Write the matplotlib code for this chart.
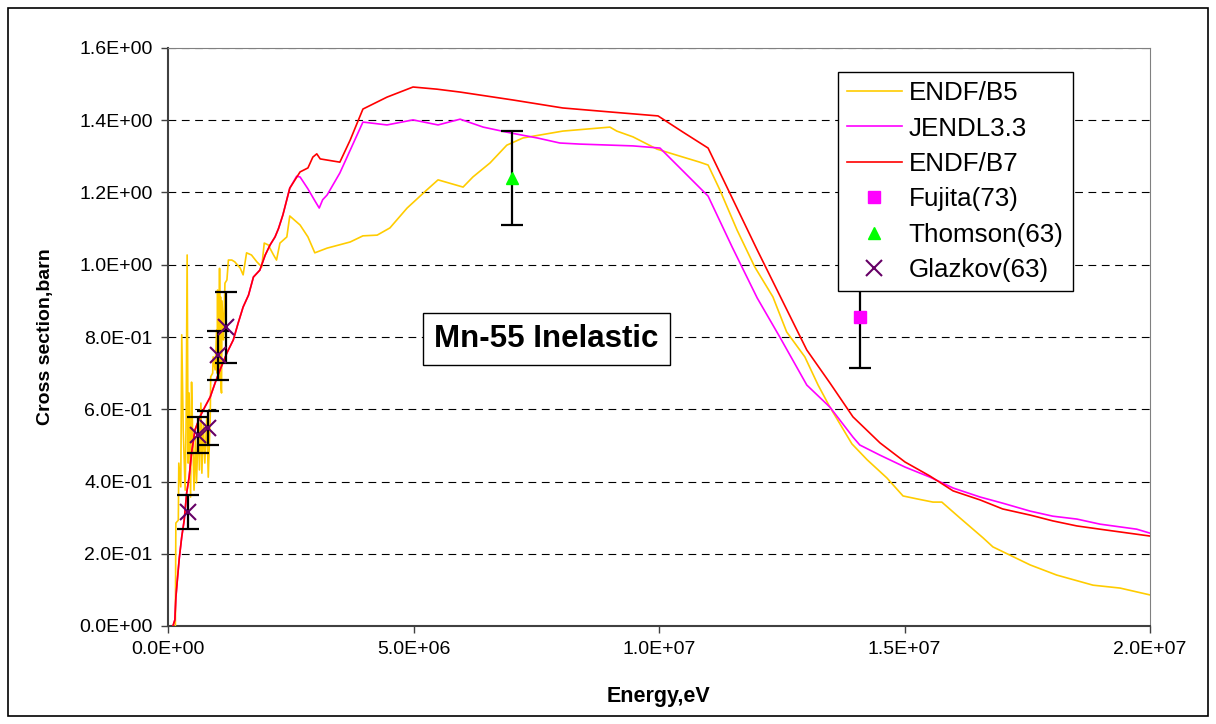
import numpy as np
import matplotlib
matplotlib.use("Agg")
import matplotlib.pyplot as plt
from matplotlib.ticker import FuncFormatter, MultipleLocator
from matplotlib.patches import Rectangle

# ENDF/B5 (energy in MeV, cross section in barn)
b5_e = [0.15, 0.16, 0.21, 0.22, 0.26, 0.28, 0.31, 0.35, 0.37, 0.39, 0.41, 0.43, 0.46, 0.48,
        0.50, 0.53, 0.56, 0.58, 0.62, 0.64, 0.67, 0.69, 0.72, 0.75, 0.79, 0.82, 0.86, 0.87,
        0.91, 0.92, 0.96, 0.99, 1.00, 1.01, 1.02, 1.03, 1.04, 1.05, 1.06, 1.07, 1.08, 1.09,
        1.10, 1.13, 1.16, 1.20, 1.23, 1.30, 1.36, 1.47, 1.53, 1.60, 1.70, 1.81, 1.91, 1.96,
        2.04, 2.15, 2.21, 2.28, 2.42, 2.48, 2.69, 2.85, 2.99, 3.24, 3.71, 3.97, 4.26, 4.52,
        4.87, 5.27, 5.50, 6.01, 6.21, 6.56, 6.90, 7.23, 8.04, 9.00, 9.14, 9.47, 9.96, 10.49,
        10.83, 11.0, 11.24, 11.59, 11.95, 12.32, 12.6, 12.97, 13.24, 13.48, 13.93, 14.24,
        14.64, 14.97, 15.25, 15.58, 15.76, 16.13, 16.6, 16.8, 17.56, 18.1, 18.84, 19.39, 20.0]
b5_xs = [0.0, 0.285, 0.293, 0.451, 0.385, 0.806, 0.543, 0.376, 0.579, 1.027, 0.451, 0.645,
         0.357, 0.675, 0.543, 0.376, 0.523, 0.396, 0.562, 0.432, 0.617, 0.423, 0.562, 0.451,
         0.579, 0.412, 0.579, 0.69, 0.70, 0.745, 0.709, 0.82, 0.70, 0.93, 0.69, 0.92, 0.68,
         0.99, 0.70, 0.911, 0.66, 0.645, 0.90, 0.792, 0.949, 0.958, 1.013, 1.013, 1.008,
         0.991, 0.972, 1.033, 1.027, 1.008, 0.994, 1.06, 1.055, 1.027, 1.013, 1.06, 1.077,
         1.135, 1.110, 1.077, 1.033, 1.046, 1.063, 1.080, 1.082, 1.102, 1.157, 1.207, 1.235,
         1.215, 1.243, 1.282, 1.331, 1.351, 1.370, 1.381, 1.370, 1.354, 1.320, 1.298, 1.284,
         1.276, 1.207, 1.096, 0.994, 0.911, 0.814, 0.745, 0.667, 0.606, 0.504, 0.46, 0.41,
         0.36, 0.352, 0.343, 0.343, 0.299, 0.244, 0.219, 0.169, 0.141, 0.113, 0.105, 0.086]

# JENDL3.3
jendl_e = [0.10, 0.14, 0.16, 0.19, 0.23, 0.28, 0.33, 0.38, 0.43, 0.48, 0.55, 0.65, 0.75,
           0.86, 0.96, 1.06, 1.20, 1.33, 1.43, 1.53, 1.64, 1.74, 1.87, 1.98, 2.08, 2.18,
           2.25, 2.34, 2.48, 2.62, 2.69, 2.85, 3.00, 3.08, 3.15, 3.24, 3.50, 3.97, 4.46,
           4.99, 5.50, 5.95, 6.42, 6.97, 7.52, 7.98, 8.39, 9.47, 10.02, 10.47, 11.0, 11.49,
           12.0, 12.46, 13.01, 13.48, 13.95, 14.09, 14.50, 15.01, 15.52, 15.99, 16.54, 17.0,
           17.56, 18.02, 18.51, 18.98, 19.73, 20.0]
jendl_xs = [0.0, 0.017, 0.078, 0.127, 0.188, 0.247, 0.293, 0.368, 0.412, 0.479, 0.543,
            0.579, 0.606, 0.634, 0.673, 0.709, 0.756, 0.792, 0.839, 0.883, 0.916, 0.966,
            0.985, 1.027, 1.055, 1.077, 1.100, 1.138, 1.212, 1.245, 1.243, 1.21, 1.175,
            1.157, 1.18, 1.193, 1.254, 1.395, 1.387, 1.401, 1.387, 1.403, 1.381, 1.365,
            1.351, 1.337, 1.334, 1.329, 1.323, 1.262, 1.19, 1.049, 0.908, 0.80, 0.667,
            0.606, 0.523, 0.501, 0.473, 0.44, 0.412, 0.382, 0.357, 0.34, 0.318, 0.304,
            0.296, 0.282, 0.268, 0.257]

# ENDF/B7
b7_e = [0.10, 0.14, 0.16, 0.19, 0.23, 0.28, 0.33, 0.38, 0.43, 0.48, 0.55, 0.65, 0.75, 0.86,
        0.96, 1.06, 1.20, 1.33, 1.43, 1.53, 1.64, 1.74, 1.87, 1.98, 2.08, 2.18, 2.25, 2.34,
        2.48, 2.69, 2.85, 2.95, 3.03, 3.10, 3.50, 3.71, 3.97, 4.46, 4.99, 5.48, 5.95, 7.03,
        8.04, 9.00, 9.98, 10.49, 11.0, 12.0, 13.01, 13.48, 13.95, 14.50, 15.01, 15.52, 15.99,
        16.54, 17.0, 17.56, 18.02, 18.51, 18.98, 20.0]
b7_xs = [0.0, 0.017, 0.078, 0.127, 0.188, 0.247, 0.293, 0.368, 0.412, 0.479, 0.543, 0.579,
         0.606, 0.634, 0.673, 0.709, 0.756, 0.792, 0.839, 0.883, 0.916, 0.966, 0.985, 1.027,
         1.055, 1.077, 1.100, 1.138, 1.212, 1.257, 1.268, 1.298, 1.307, 1.293, 1.284, 1.345,
         1.431, 1.464, 1.492, 1.486, 1.478, 1.456, 1.434, 1.423, 1.412, 1.367, 1.323, 1.041,
         0.764, 0.673, 0.579, 0.507, 0.454, 0.415, 0.374, 0.349, 0.324, 0.307, 0.291, 0.277,
         0.268, 0.249]

# experimental points
fujita_e, fujita_xs, fujita_err = [14.1], [0.855], [0.14]
thomson_e, thomson_xs, thomson_err = [7.0], [1.24], [0.13]
glazkov_e = [0.41, 0.61, 0.82, 1.02, 1.18]
glazkov_xs = [0.316, 0.529, 0.548, 0.749, 0.827]
glazkov_err = [0.048, 0.05, 0.048, 0.068, 0.098]

MeV = 1e6

fig = plt.figure(figsize=(12.16, 7.24), dpi=100)
ax = fig.add_axes([168 / 1216, 1 - 626 / 724, (1150 - 168) / 1216, (626 - 48) / 724])

lw = 1.2
ax.plot(np.array(b5_e) * MeV, b5_xs, color="#FFCC00", lw=lw, label="ENDF/B5", zorder=3)
ax.plot(np.array(jendl_e) * MeV, jendl_xs, color="#FF00FF", lw=lw, label="JENDL3.3", zorder=3)
ax.plot(np.array(b7_e) * MeV, b7_xs, color="#FF0000", lw=lw, label="ENDF/B7", zorder=3)

# error bars
for e, xs, err in [(fujita_e, fujita_xs, fujita_err),
                   (thomson_e, thomson_xs, thomson_err),
                   (glazkov_e, glazkov_xs, glazkov_err)]:
    ax.errorbar(np.array(e) * MeV, xs, yerr=err, fmt="none", ecolor="black",
                elinewidth=1.6, capsize=8, capthick=1.6, zorder=4)

ax.plot(np.array(fujita_e) * MeV, fujita_xs, "s", color="#FF00FF", ms=8,
        ls="none", label="Fujita(73)", zorder=5)
ax.plot(np.array(thomson_e) * MeV, thomson_xs, "^", color="#00FF00", ms=9,
        ls="none", label="Thomson(63)", zorder=5)
ax.plot(np.array(glazkov_e) * MeV, glazkov_xs, "x", color="#660066", ms=12, mew=1.5,
        ls="none", label="Glazkov(63)", zorder=5)

ax.set_xlim(0, 2e7)
ax.set_ylim(0, 1.6)
ax.xaxis.set_major_locator(MultipleLocator(5e6))
ax.yaxis.set_major_locator(MultipleLocator(0.2))
fmt = FuncFormatter(lambda v, p: "%.1E" % v)
ax.xaxis.set_major_formatter(fmt)
ax.yaxis.set_major_formatter(fmt)

ax.grid(True, axis="y", color="black", ls=(0, (7, 5)), lw=0.8)
ax.set_axisbelow(True)
for s in ["top", "right"]:
    ax.spines[s].set_color("#808080")
for s in ["left", "bottom"]:
    ax.spines[s].set_color("#404040")
    ax.spines[s].set_linewidth(1.5)
ax.tick_params(direction="out", length=5, width=1, colors="#404040",
               labelcolor="black", labelsize=14, pad=6)
for lab in ax.get_xticklabels() + ax.get_yticklabels():
    lab.set_family("Liberation Sans")

narrow = ["Liberation Sans Narrow", "Liberation Sans", "DejaVu Sans"]
ax.set_xlabel("Energy,eV", family=narrow, fontweight="bold", fontsize=15.5, labelpad=20)
ax.set_ylabel("Cross section,barn", family=narrow, fontweight="bold", fontsize=14,
              labelpad=18)

ax.text(0.3855, 0.4965, "Mn-55 Inelastic", transform=ax.transAxes, family="Liberation Sans",
        fontsize=22.5, fontweight="bold", ha="center", va="center",
        bbox=dict(boxstyle="square,pad=0.35", fc="white", ec="black", lw=1), zorder=6)

leg = ax.legend(loc="upper left", bbox_to_anchor=(838 / 1216, 1 - 72 / 724),
                bbox_transform=fig.transFigure, borderaxespad=0, fancybox=False,
                edgecolor="black", framealpha=1,
                prop={"family": "Liberation Sans", "size": 18.7},
                handlelength=2.1, labelspacing=0.44, borderpad=0.35, handletextpad=0.27)
leg.get_frame().set_linewidth(1)
leg.set_zorder(7)

fig.patches.append(Rectangle((8 / 1216, 8 / 724), 1200 / 1216, 708 / 724,
                             transform=fig.transFigure, fill=False, ec="black", lw=1.2))

plt.savefig("out.png", dpi=100)
